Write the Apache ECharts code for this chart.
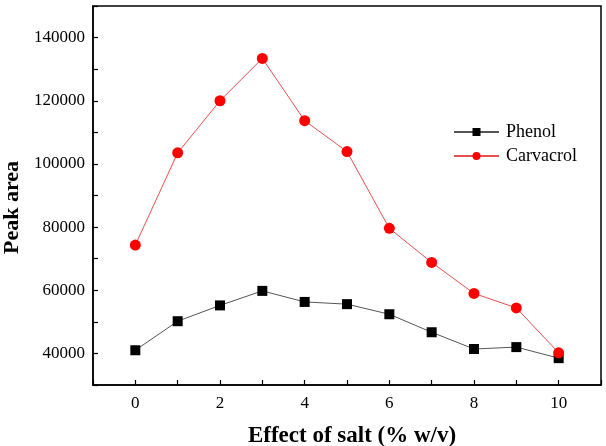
<!DOCTYPE html>
<html>
<head>
<meta charset="utf-8">
<script src="https://cdn.jsdelivr.net/npm/echarts@6/dist/echarts.min.js"></script>
<style>
  html, body { margin: 0; padding: 0; background: #fff; }
  #chart { width: 606px; height: 446px; }
</style>
</head>
<body>
<div id="chart"></div>
<script>
// salt concentration (% w/v)
const saltLevels = [0, 1, 2, 3, 4, 5, 6, 7, 8, 9, 10]
const phenolArea = [41000, 50200, 55200, 59800, 56300, 55600, 52400, 46700, 41400, 42000, 38500]
const carvacrolArea = [74300, 103500, 120000, 133400, 113700, 103900, 79600, 68800, 59000, 54400, 40200]

const serif = '"Liberation Serif", "Times New Roman", serif'

const chart = echarts.init(document.getElementById('chart'))

const toPairs = (ys) => saltLevels.map((x, i) => [x, ys[i]])

const option = {
  backgroundColor: '#fff',
  animation: false,
  grid: {
    left: 93,
    top: 6,
    right: 5,
    bottom: 61,
    outerBoundsMode: 'none',
    containLabel: false,
    show: true,
    borderColor: '#000',
    borderWidth: 1.5
  },
  legend: {
    orient: 'vertical',
    left: 448,
    top: 118,
    itemWidth: 45,
    itemHeight: 10,
    itemGap: 6,
    textStyle: { fontFamily: serif, fontSize: 18, color: '#000', padding: [0, 0, 0, 2] },
    data: ['Phenol', 'Carvacrol']
  },
  xAxis: {
    type: 'value',
    min: -1,
    max: 11,
    interval: 1,
    name: 'Effect of salt (% w/v)',
    nameLocation: 'middle',
    nameGap: 40,
    nameTextStyle: { fontFamily: serif, fontSize: 23, fontWeight: 'bold', color: '#000', padding: [0, 0, 0, 10] },
    splitLine: { show: false },
    axisLine: { onZero: false, lineStyle: { color: '#000', width: 1.5 } },
    axisTick: { inside: true, length: 5, lineStyle: { color: '#000', width: 1.2 } },
    axisLabel: {
      fontFamily: serif,
      fontSize: 17,
      color: '#000',
      margin: 10,
      formatter: (v) => (v >= 0 && v <= 10 && v % 2 === 0 ? String(v) : '')
    }
  },
  yAxis: {
    type: 'value',
    min: 30000,
    max: 150000,
    interval: 10000,
    name: 'Peak area',
    nameLocation: 'middle',
    nameGap: 70,
    nameTextStyle: { fontFamily: serif, fontSize: 22, fontWeight: 'bold', color: '#000', padding: [0, 24, 0, 0] },
    splitLine: { show: false },
    axisLine: { show: true, onZero: false, lineStyle: { color: '#000', width: 1.5 } },
    axisTick: { inside: true, length: 5, lineStyle: { color: '#000', width: 1.2 } },
    axisLabel: {
      fontFamily: serif,
      fontSize: 17,
      color: '#000',
      margin: 8,
      formatter: (v) => (v >= 40000 && v <= 140000 && v % 20000 === 0 ? String(v) : '')
    }
  },
  series: [
    {
      name: 'Phenol',
      type: 'line',
      data: toPairs(phenolArea),
      symbol: 'rect',
      symbolSize: 10,
      itemStyle: { color: '#000' },
      lineStyle: { color: '#555', width: 1 },
      z: 3
    },
    {
      name: 'Carvacrol',
      type: 'line',
      data: toPairs(carvacrolArea),
      symbol: 'circle',
      symbolSize: 11,
      itemStyle: { color: '#f00' },
      lineStyle: { color: '#e85050', width: 1 },
      z: 4
    }
  ]
}

chart.setOption(option)
</script>
</body>
</html>
